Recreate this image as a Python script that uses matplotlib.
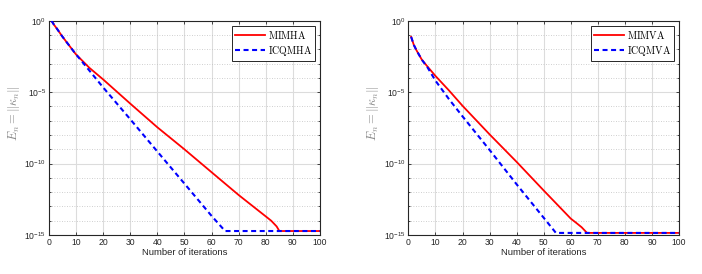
import matplotlib
matplotlib.use("Agg")
import matplotlib.pyplot as plt
import matplotlib.ticker as mticker

plt.rcParams["mathtext.fontset"] = "cm"
plt.rcParams["font.family"] = ["Liberation Sans", "DejaVu Sans"]

# left panel: iteration, error
mimha_it = [1, 2, 3, 5, 7, 10, 15, 20, 30, 40, 50, 60, 70, 80, 82, 84, 85, 100]
mimha_err = [1.0, 5.0e-1, 2.8e-1, 7.9e-2, 2.5e-2, 4.5e-3, 5.0e-4, 7.9e-5, 1.6e-6,
             3.5e-8, 1.0e-9, 2.5e-11, 6.3e-13, 2.0e-14, 1.0e-14, 4.0e-15, 1.9e-15, 1.9e-15]
icqmha_it = [1, 2, 3, 5, 7, 10, 12, 15, 20, 30, 40, 50, 60, 65, 100]
icqmha_err = [1.0, 5.0e-1, 2.8e-1, 7.9e-2, 2.5e-2, 4.5e-3, 1.6e-3, 3.2e-4, 2.2e-5,
              1.3e-7, 7.1e-10, 4.0e-12, 2.2e-14, 1.9e-15, 1.9e-15]

# right panel
mimva_it = [1, 2, 3, 5, 7, 10, 15, 20, 30, 40, 50, 60, 62, 64, 66, 100]
mimva_err = [7.4e-2, 2.0e-2, 8.3e-3, 1.8e-3, 6.3e-4, 1.35e-4, 1.3e-5, 1.1e-6, 1.1e-8,
             1.3e-10, 1.3e-12, 1.4e-14, 7.1e-15, 3.5e-15, 1.4e-15, 1.4e-15]
icqmva_it = [1, 2, 3, 5, 7, 10, 15, 20, 30, 40, 50, 54.5, 100]
icqmva_err = [7.4e-2, 2.0e-2, 8.3e-3, 1.8e-3, 5.6e-4, 6.3e-5, 3.2e-6, 2.0e-7, 8.9e-10,
              3.5e-12, 1.6e-14, 1.4e-15, 1.4e-15]

xticks = list(range(0, 101, 10))
ylab = r"$E_n = \|\kappa_n\|$"

fig = plt.figure(figsize=(7.02, 2.74), dpi=100)
ax1 = fig.add_axes([0.0694, 0.1423, 0.3865, 0.7822])
ax2 = fig.add_axes([0.5818, 0.1423, 0.3855, 0.7822])

panels = [
    (ax1, mimha_it, mimha_err, icqmha_it, icqmha_err, "MIMHA", "ICQMHA"),
    (ax2, mimva_it, mimva_err, icqmva_it, icqmva_err, "MIMVA", "ICQMVA"),
]

for ax, x1, y1, x2, y2, n1, n2 in panels:
    ax.semilogy(x1, y1, color="#ff0000", lw=1.3, label=r"$\mathrm{%s}$" % n1, zorder=3)
    ax.semilogy(x2, y2, color="#0000ff", lw=1.5, ls=(0, (2.4, 1.7)),
                label=r"$\mathrm{%s}$" % n2, zorder=4)
    ax.set_xlim(0, 100)
    ax.set_ylim(1e-15, 1)
    ax.set_xticks(xticks)
    ax.yaxis.set_major_locator(mticker.FixedLocator([1e-15, 1e-10, 1e-5, 1]))
    ax.yaxis.set_minor_locator(mticker.FixedLocator([10.0 ** -k for k in range(16)]))
    ax.yaxis.set_minor_formatter(mticker.NullFormatter())
    ax.grid(True, which="major", color="#dcdcdc", lw=0.8)
    ax.grid(True, which="minor", axis="y", color="#c0c0c0", lw=0.6, ls=(0, (1, 2)))
    ax.tick_params(which="both", direction="in", top=True, right=True,
                   labelsize=6.2, colors="#262626", length=2.5, width=0.6, pad=2)
    ax.tick_params(which="minor", length=1.5)
    for s in ax.spines.values():
        s.set_color("#262626")
        s.set_linewidth(0.8)
    ax.set_xlabel("Number of iterations", fontsize=6.8, color="#262626", labelpad=1)
    ax.set_ylabel(ylab, fontsize=9, color="#8a8a8a", labelpad=4)
    ax.yaxis.set_label_coords(-0.1, 0.57)
    leg = ax.legend(loc="upper right", fontsize=7.2, frameon=True, fancybox=False,
                    borderpad=0.3, handlelength=3.0, handletextpad=0.3,
                    labelspacing=0.3, borderaxespad=0.5)
    leg.get_frame().set_edgecolor("#262626")
    leg.get_frame().set_linewidth(0.7)
    leg.get_frame().set_alpha(1)

fig.savefig("out.png", dpi=100)
